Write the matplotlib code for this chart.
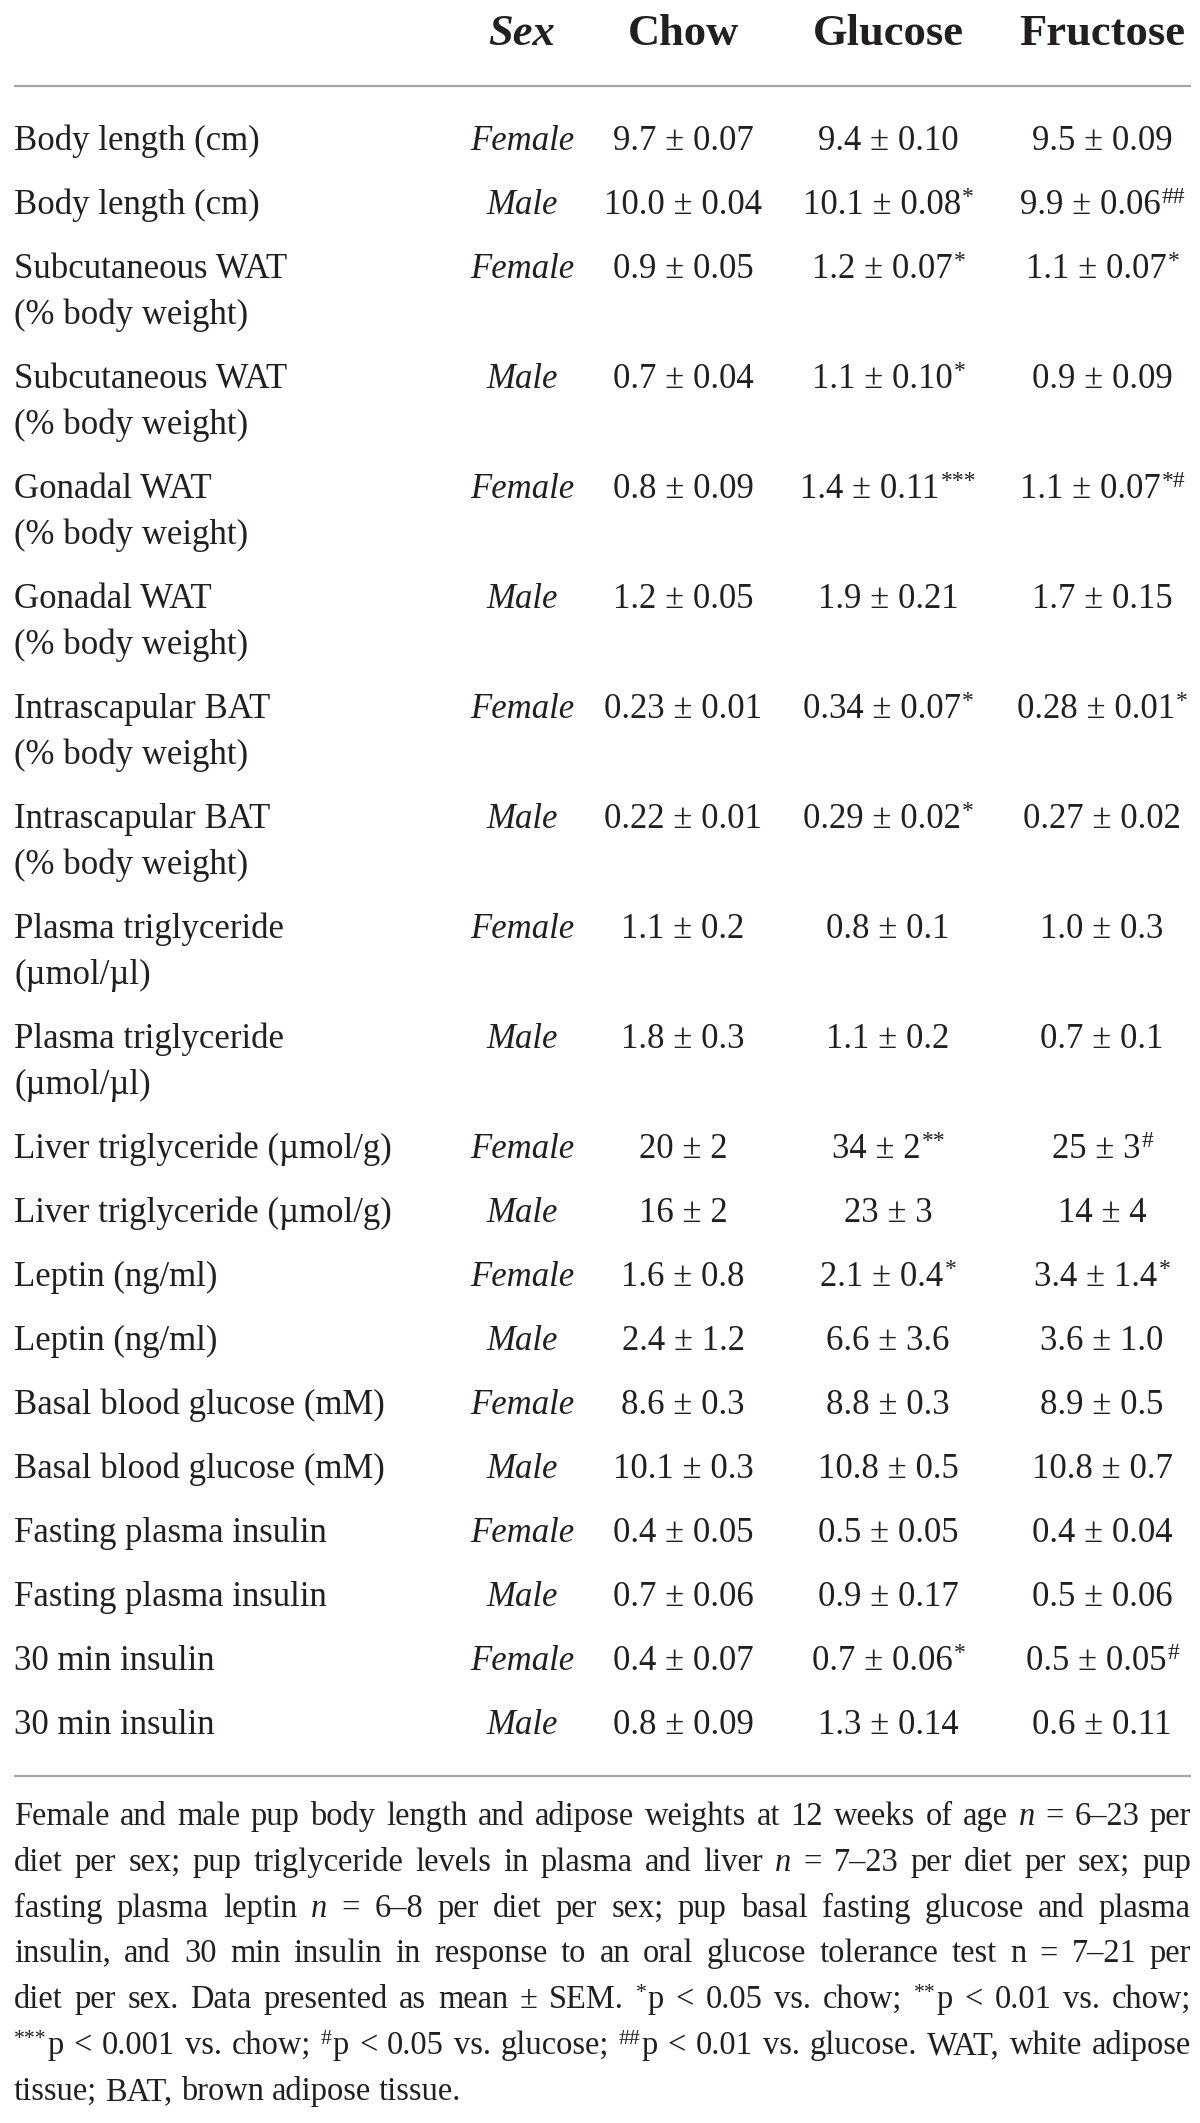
import matplotlib
matplotlib.use("Agg")
import matplotlib.pyplot as plt

# Tabelle: Parameter, Geschlecht, Werte je Diät (Mittelwert ± SEM) und Signifikanzzeichen
labels = [
    "Body length (cm)", "Body length (cm)",
    "Subcutaneous WAT\n(% body weight)", "Subcutaneous WAT\n(% body weight)",
    "Gonadal WAT\n(% body weight)", "Gonadal WAT\n(% body weight)",
    "Intrascapular BAT\n(% body weight)", "Intrascapular BAT\n(% body weight)",
    "Plasma triglyceride\n(\u00b5mol/\u00b5l)", "Plasma triglyceride\n(\u00b5mol/\u00b5l)",
    "Liver triglyceride (\u00b5mol/g)", "Liver triglyceride (\u00b5mol/g)",
    "Leptin (ng/ml)", "Leptin (ng/ml)",
    "Basal blood glucose (mM)", "Basal blood glucose (mM)",
    "Fasting plasma insulin", "Fasting plasma insulin",
    "30 min insulin", "30 min insulin",
]
sexes = ["Female", "Male"] * 10

chow = ["9.7 \u00b1 0.07", "10.0 \u00b1 0.04", "0.9 \u00b1 0.05", "0.7 \u00b1 0.04",
        "0.8 \u00b1 0.09", "1.2 \u00b1 0.05", "0.23 \u00b1 0.01", "0.22 \u00b1 0.01",
        "1.1 \u00b1 0.2", "1.8 \u00b1 0.3", "20 \u00b1 2", "16 \u00b1 2",
        "1.6 \u00b1 0.8", "2.4 \u00b1 1.2", "8.6 \u00b1 0.3", "10.1 \u00b1 0.3",
        "0.4 \u00b1 0.05", "0.7 \u00b1 0.06", "0.4 \u00b1 0.07", "0.8 \u00b1 0.09"]
glucose = ["9.4 \u00b1 0.10", "10.1 \u00b1 0.08", "1.2 \u00b1 0.07", "1.1 \u00b1 0.10",
           "1.4 \u00b1 0.11", "1.9 \u00b1 0.21", "0.34 \u00b1 0.07", "0.29 \u00b1 0.02",
           "0.8 \u00b1 0.1", "1.1 \u00b1 0.2", "34 \u00b1 2", "23 \u00b1 3",
           "2.1 \u00b1 0.4", "6.6 \u00b1 3.6", "8.8 \u00b1 0.3", "10.8 \u00b1 0.5",
           "0.5 \u00b1 0.05", "0.9 \u00b1 0.17", "0.7 \u00b1 0.06", "1.3 \u00b1 0.14"]
fructose = ["9.5 \u00b1 0.09", "9.9 \u00b1 0.06", "1.1 \u00b1 0.07", "0.9 \u00b1 0.09",
            "1.1 \u00b1 0.07", "1.7 \u00b1 0.15", "0.28 \u00b1 0.01", "0.27 \u00b1 0.02",
            "1.0 \u00b1 0.3", "0.7 \u00b1 0.1", "25 \u00b1 3", "14 \u00b1 4",
            "3.4 \u00b1 1.4", "3.6 \u00b1 1.0", "8.9 \u00b1 0.5", "10.8 \u00b1 0.7",
            "0.4 \u00b1 0.04", "0.5 \u00b1 0.06", "0.5 \u00b1 0.05", "0.6 \u00b1 0.11"]
chow_sig = [""] * 20
glucose_sig = ["", "*", "*", "*", "***", "", "*", "*", "", "", "**", "",
               "*", "", "", "", "", "", "*", ""]
fructose_sig = ["", "##", "*", "", "*#", "", "*", "", "", "", "#", "",
                "*", "", "", "", "", "", "#", ""]

headers = ["Sex", "Chow", "Glucose", "Fructose"]

# Fußnote, Zeile für Zeile; {x} = hochgestellt, _n = kursives n
footnote = [
    "Female and male pup body length and adipose weights at 12 weeks of age _n = 6\u201323 per",
    "diet per sex; pup triglyceride levels in plasma and liver _n = 7\u201323 per diet per sex; pup",
    "fasting plasma leptin _n = 6\u20138 per diet per sex; pup basal fasting glucose and plasma",
    "insulin, and 30 min insulin in response to an oral glucose tolerance test n = 7\u201321 per",
    "diet per sex. Data presented as mean \u00b1 SEM. {*}p < 0.05 vs. chow; {**}p < 0.01 vs. chow;",
    "{***}p < 0.001 vs. chow; {#}p < 0.05 vs. glucose; {##}p < 0.01 vs. glucose. WAT, white adipose",
    "tissue; BAT, brown adipose tissue.",
]

FONT = "Liberation Serif"
INK = "#231f20"
W, H = 1200, 2123

fig = plt.figure(figsize=(W / 100, H / 100), dpi=100)
ax = fig.add_axes([0, 0, 1, 1])
ax.set_xlim(0, W)
ax.set_ylim(H, 0)
ax.axis("off")
renderer = fig.canvas.get_renderer()


def width(s, **kw):
    t = ax.text(0, 0, s, family=FONT, **kw)
    w = t.get_window_extent(renderer).width
    t.remove()
    return w


def cell(xc, y, value, sig, size=25, sup_size=17):
    # zentriert inkl. Hochzeichen
    w0 = width(value, fontsize=size)
    w1 = width(sig, fontsize=sup_size) if sig else 0
    x0 = xc - (w0 + w1) / 2
    ax.text(x0, y, value, family=FONT, fontsize=size, color=INK, ha="left", va="baseline")
    if sig:
        ax.text(x0 + w0 + 1, y - 11, sig, family=FONT, fontsize=sup_size, color=INK,
                ha="left", va="baseline")


# Kopfzeile
col_x = [522, 683, 888, 1102]
for i, h in enumerate(headers):
    ax.text(col_x[i], 45, h, family=FONT, fontsize=32, fontweight="bold",
            style="italic" if h == "Sex" else "normal", color=INK,
            ha="center", va="baseline")

ax.plot([14, 1191], [86, 86], color="#a6a6a6", lw=1.6, solid_capstyle="butt")

# Zeilen
y = 150
for i in range(len(labels)):
    lines = labels[i].split("\n")
    for k, ln in enumerate(lines):
        ax.text(14, y + 46 * k, ln, family=FONT, fontsize=25, color=INK,
                ha="left", va="baseline")
    ax.text(col_x[0], y, sexes[i], family=FONT, fontsize=25, style="italic",
            color=INK, ha="center", va="baseline")
    cell(col_x[1], y, chow[i], chow_sig[i])
    cell(col_x[2], y, glucose[i], glucose_sig[i])
    cell(col_x[3], y, fructose[i], fructose_sig[i])
    y += 46 * (len(lines) - 1) + 64

ax.plot([14, 1191], [1776, 1776], color="#a6a6a6", lw=1.6, solid_capstyle="butt")


# Fußnote im Blocksatz
left, right = 14, 1191


def token_parts(word):
    if word == "_n":
        return [("n", "i")]
    if word.startswith("{"):
        j = word.index("}")
        return [(word[1:j], "s"), (word[j + 1:], "r")]
    return [(word, "r")]


def part_width(txt, kind, fs):
    if not txt:
        return 0
    if kind == "s":
        return width(txt, fontsize=fs * 0.67) + 1
    if kind == "i":
        return width(txt, fontsize=fs, style="italic")
    return width(txt, fontsize=fs)


def draw_part(x, y, txt, kind, fs):
    if not txt:
        return
    if kind == "s":
        ax.text(x, y - 10, txt, family=FONT, fontsize=fs * 0.67, color=INK,
                ha="left", va="baseline")
    elif kind == "i":
        ax.text(x, y, txt, family=FONT, fontsize=fs, style="italic", color=INK,
                ha="left", va="baseline")
    else:
        ax.text(x, y, txt, family=FONT, fontsize=fs, color=INK, ha="left", va="baseline")


def line_width(line, fs):
    words = line.split(" ")
    sp = width("a a", fontsize=fs) - 2 * width("a", fontsize=fs)
    ws = sum(part_width(t, k, fs) for w in words for t, k in token_parts(w))
    return ws + sp * (len(words) - 1)


# Schriftgröße so, dass die längste Zeile knapp in die Breite passt
base = 21
widest = max(line_width(ln, base) for ln in footnote[:-1])
FS = min(24.5, base * (right - left) * 0.975 / widest)

space_w = width("a a", fontsize=FS) - 2 * width("a", fontsize=FS)
for li, line in enumerate(footnote):
    yb = 1825 + li * 45.8
    words = line.split(" ")
    parts = [token_parts(w) for w in words]
    widths = [sum(part_width(t, k, FS) for t, k in p) for p in parts]
    last = li == len(footnote) - 1
    if last or len(words) < 2:
        gap = space_w
    else:
        gap = (right - left - sum(widths)) / (len(words) - 1)
    x = left
    for p, wd in zip(parts, widths):
        xx = x
        for t, k in p:
            draw_part(xx, yb, t, k, FS)
            xx += part_width(t, k, FS)
        x += wd + gap

fig.savefig("out.png", dpi=100, facecolor="white")
